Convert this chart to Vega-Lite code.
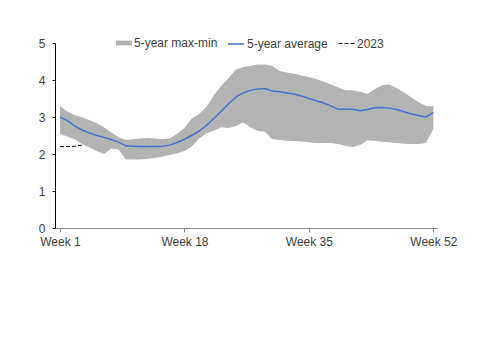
{
  "$schema": "https://vega.github.io/schema/vega-lite/v6.json",
  "width": 382,
  "height": 185,
  "autosize": {"type": "none"},
  "padding": {"left": 55, "top": 43, "right": 63, "bottom": 125},
  "background": "white",
  "config": {
    "view": {"stroke": null},
    "font": "Liberation Sans",
    "axisY": {
      "values": [0, 1, 2, 3, 4, 5],
      "labelOverlap": false,
      "grid": false,
      "domainColor": "#000000",
      "tickColor": "#000000",
      "tickSize": 3,
      "labelPadding": 7,
      "labelFont": "Liberation Sans",
      "labelFontSize": 12,
      "labelColor": "#404040",
      "title": null
    },
    "legend": {
      "orient": "none",
      "direction": "horizontal",
      "title": null,
      "labelFont": "Liberation Sans",
      "labelFontSize": 12,
      "labelColor": "#404040",
      "labelOffset": 2,
      "symbolSize": 256,
      "symbolOpacity": 1,
      "legendY": -8
    }
  },
  "resolve": {"scale": {"color": "independent"}, "legend": {"color": "independent"}},
  "data": {"values": [
    {"week": 1, "min": 2.54, "max": 3.29, "avg": 3.00, "y2023": 2.20},
    {"week": 2, "min": 2.47, "max": 3.15, "avg": 2.90, "y2023": 2.20},
    {"week": 3, "min": 2.40, "max": 3.05, "avg": 2.76, "y2023": 2.21},
    {"week": 4, "min": 2.27, "max": 2.99, "avg": 2.65, "y2023": 2.24},
    {"week": 5, "min": 2.18, "max": 2.92, "avg": 2.57, "y2023": null},
    {"week": 6, "min": 2.08, "max": 2.83, "avg": 2.50, "y2023": null},
    {"week": 7, "min": 2.00, "max": 2.72, "avg": 2.45, "y2023": null},
    {"week": 8, "min": 2.15, "max": 2.58, "avg": 2.39, "y2023": null},
    {"week": 9, "min": 2.12, "max": 2.45, "avg": 2.32, "y2023": null},
    {"week": 10, "min": 1.85, "max": 2.38, "avg": 2.22, "y2023": null},
    {"week": 11, "min": 1.85, "max": 2.40, "avg": 2.21, "y2023": null},
    {"week": 12, "min": 1.85, "max": 2.42, "avg": 2.20, "y2023": null},
    {"week": 13, "min": 1.87, "max": 2.43, "avg": 2.20, "y2023": null},
    {"week": 14, "min": 1.89, "max": 2.42, "avg": 2.20, "y2023": null},
    {"week": 15, "min": 1.93, "max": 2.40, "avg": 2.21, "y2023": null},
    {"week": 16, "min": 1.97, "max": 2.42, "avg": 2.24, "y2023": null},
    {"week": 17, "min": 2.02, "max": 2.55, "avg": 2.31, "y2023": null},
    {"week": 18, "min": 2.08, "max": 2.70, "avg": 2.40, "y2023": null},
    {"week": 19, "min": 2.20, "max": 2.96, "avg": 2.50, "y2023": null},
    {"week": 20, "min": 2.42, "max": 3.08, "avg": 2.62, "y2023": null},
    {"week": 21, "min": 2.56, "max": 3.27, "avg": 2.77, "y2023": null},
    {"week": 22, "min": 2.63, "max": 3.58, "avg": 2.96, "y2023": null},
    {"week": 23, "min": 2.72, "max": 3.84, "avg": 3.15, "y2023": null},
    {"week": 24, "min": 2.70, "max": 4.05, "avg": 3.35, "y2023": null},
    {"week": 25, "min": 2.75, "max": 4.28, "avg": 3.53, "y2023": null},
    {"week": 26, "min": 2.86, "max": 4.35, "avg": 3.65, "y2023": null},
    {"week": 27, "min": 2.72, "max": 4.38, "avg": 3.72, "y2023": null},
    {"week": 28, "min": 2.63, "max": 4.42, "avg": 3.76, "y2023": null},
    {"week": 29, "min": 2.60, "max": 4.42, "avg": 3.77, "y2023": null},
    {"week": 30, "min": 2.40, "max": 4.38, "avg": 3.70, "y2023": null},
    {"week": 31, "min": 2.38, "max": 4.24, "avg": 3.68, "y2023": null},
    {"week": 32, "min": 2.36, "max": 4.20, "avg": 3.65, "y2023": null},
    {"week": 33, "min": 2.35, "max": 4.17, "avg": 3.62, "y2023": null},
    {"week": 34, "min": 2.34, "max": 4.12, "avg": 3.57, "y2023": null},
    {"week": 35, "min": 2.32, "max": 4.08, "avg": 3.50, "y2023": null},
    {"week": 36, "min": 2.30, "max": 4.03, "avg": 3.44, "y2023": null},
    {"week": 37, "min": 2.30, "max": 3.96, "avg": 3.38, "y2023": null},
    {"week": 38, "min": 2.30, "max": 3.88, "avg": 3.30, "y2023": null},
    {"week": 39, "min": 2.27, "max": 3.80, "avg": 3.21, "y2023": null},
    {"week": 40, "min": 2.22, "max": 3.72, "avg": 3.21, "y2023": null},
    {"week": 41, "min": 2.19, "max": 3.72, "avg": 3.21, "y2023": null},
    {"week": 42, "min": 2.24, "max": 3.68, "avg": 3.17, "y2023": null},
    {"week": 43, "min": 2.37, "max": 3.63, "avg": 3.20, "y2023": null},
    {"week": 44, "min": 2.36, "max": 3.75, "avg": 3.25, "y2023": null},
    {"week": 45, "min": 2.33, "max": 3.86, "avg": 3.26, "y2023": null},
    {"week": 46, "min": 2.32, "max": 3.88, "avg": 3.24, "y2023": null},
    {"week": 47, "min": 2.30, "max": 3.78, "avg": 3.20, "y2023": null},
    {"week": 48, "min": 2.28, "max": 3.66, "avg": 3.14, "y2023": null},
    {"week": 49, "min": 2.27, "max": 3.53, "avg": 3.08, "y2023": null},
    {"week": 50, "min": 2.27, "max": 3.40, "avg": 3.04, "y2023": null},
    {"week": 51, "min": 2.30, "max": 3.30, "avg": 3.00, "y2023": null},
    {"week": 52, "min": 2.68, "max": 3.29, "avg": 3.12, "y2023": null}
  ]},
  "encoding": {
    "x": {
      "field": "week",
      "type": "quantitative",
      "scale": {"domain": [0.317, 52.5], "nice": false, "zero": false},
      "axis": {
        "title": null,
        "values": [1, 18, 35, 52],
        "labelExpr": "'Week ' + datum.value",
        "grid": false,
        "domainColor": "#888888",
        "tickColor": "#888888",
        "tickSize": 4,
        "labelPadding": 4,
        "labelFont": "Liberation Sans",
        "labelFontSize": 12,
        "labelColor": "#404040"
      }
    }
  },
  "layer": [
    {
      "mark": {"type": "area", "opacity": 1},
      "encoding": {
        "y": {
          "field": "min",
          "type": "quantitative",
          "scale": {"domain": [0, 5], "nice": false},
          "axis": {"title": null, "values": [0, 1, 2, 3, 4, 5], "labelOverlap": false}
        },
        "y2": {"field": "max"},
        "color": {
          "datum": "5-year max-min",
          "type": "nominal",
          "scale": {"domain": ["5-year max-min"], "range": ["#b3b3b3"]},
          "legend": {
            "legendX": 61,
            "symbolType": "M-1,-0.3H1V0.3H-1Z",
            "symbolFillColor": "#b3b3b3",
            "symbolStrokeWidth": 0
          }
        }
      }
    },
    {
      "mark": {"type": "line", "strokeWidth": 1.5},
      "encoding": {
        "y": {"field": "avg", "type": "quantitative", "axis": {"title": null, "values": [0, 1, 2, 3, 4, 5], "labelOverlap": false}},
        "color": {
          "datum": "5-year average",
          "type": "nominal",
          "scale": {"domain": ["5-year average"], "range": ["#4472c4"]},
          "legend": {
            "legendX": 172,
            "symbolType": "stroke",
            "symbolStrokeWidth": 1.5
          }
        }
      }
    },
    {
      "mark": {"type": "line", "strokeWidth": 1, "strokeDash": [4, 2]},
      "encoding": {
        "y": {"field": "y2023", "type": "quantitative", "axis": {"title": null, "values": [0, 1, 2, 3, 4, 5], "labelOverlap": false}},
        "color": {
          "datum": "2023",
          "type": "nominal",
          "scale": {"domain": ["2023"], "range": ["#000000"]},
          "legend": {
            "legendX": 283,
            "symbolType": "stroke",
            "symbolStrokeWidth": 1,
            "symbolDash": [4, 2]
          }
        }
      }
    }
  ]
}
